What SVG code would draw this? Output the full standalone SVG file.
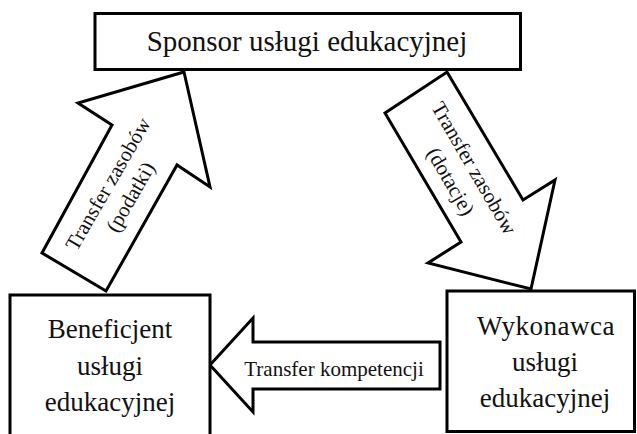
<svg xmlns="http://www.w3.org/2000/svg" width="637" height="434" viewBox="0 0 637 434">
<style>
.box{fill:#fff;stroke:#000;stroke-width:3}
.arr{fill:#fff;stroke:#000;stroke-width:3;stroke-linejoin:miter}
.big{font-family:"Liberation Serif",serif;font-size:27px;fill:#111;text-anchor:middle}
.sm{font-family:"Liberation Serif",serif;font-size:21px;fill:#111;text-anchor:middle}
</style>
<rect width="637" height="434" fill="#fff"/>
<g id="connectors">
<g id="arrow-podatki">
<polygon class="arr" points="184,72 210,187 177,165 106,291 42,253 112,125 78,103"/>
<g transform="translate(120,191) rotate(-60)">
<text class="sm" x="0" y="-7">Transfer zasobów</text>
<text class="sm" x="0" y="19">(podatki)</text>
</g>
</g>
<g id="arrow-dotacje">
<polygon class="arr" points="447,72 523,200 555,180 531,289 428,263 461,242 385,113"/>
<g transform="translate(462,175) rotate(60)">
<text class="sm" x="0" y="-7">Transfer zasobów</text>
<text class="sm" x="0" y="20">(dotacje)</text>
</g>
</g>
<g id="arrow-kompetencje">
<polygon class="arr" points="210,365 253,318 253,342 440,342 440,389 253,389 253,412"/>
<text class="sm" x="334" y="376">Transfer kompetencji</text>
</g>
</g>
<g id="sponsor">
<rect class="box" x="95" y="13.5" width="425.5" height="56"/>
<text class="big" x="307" y="51" style="font-size:29px">Sponsor usługi edukacyjnej</text>
</g>
<g id="beneficjent">
<rect class="box" x="10" y="295" width="200" height="150"/>
<text class="big" x="110" y="338">Beneficjent</text>
<text class="big" x="110" y="375">usługi</text>
<text class="big" x="110" y="411">edukacyjnej</text>
</g>
<g id="wykonawca">
<rect class="box" x="447" y="291" width="187.5" height="140.5"/>
<text class="big" x="546" y="335" style="letter-spacing:0.5px">Wykonawca</text>
<text class="big" x="545" y="371">usługi</text>
<text class="big" x="545" y="407">edukacyjnej</text>
</g>
</svg>
